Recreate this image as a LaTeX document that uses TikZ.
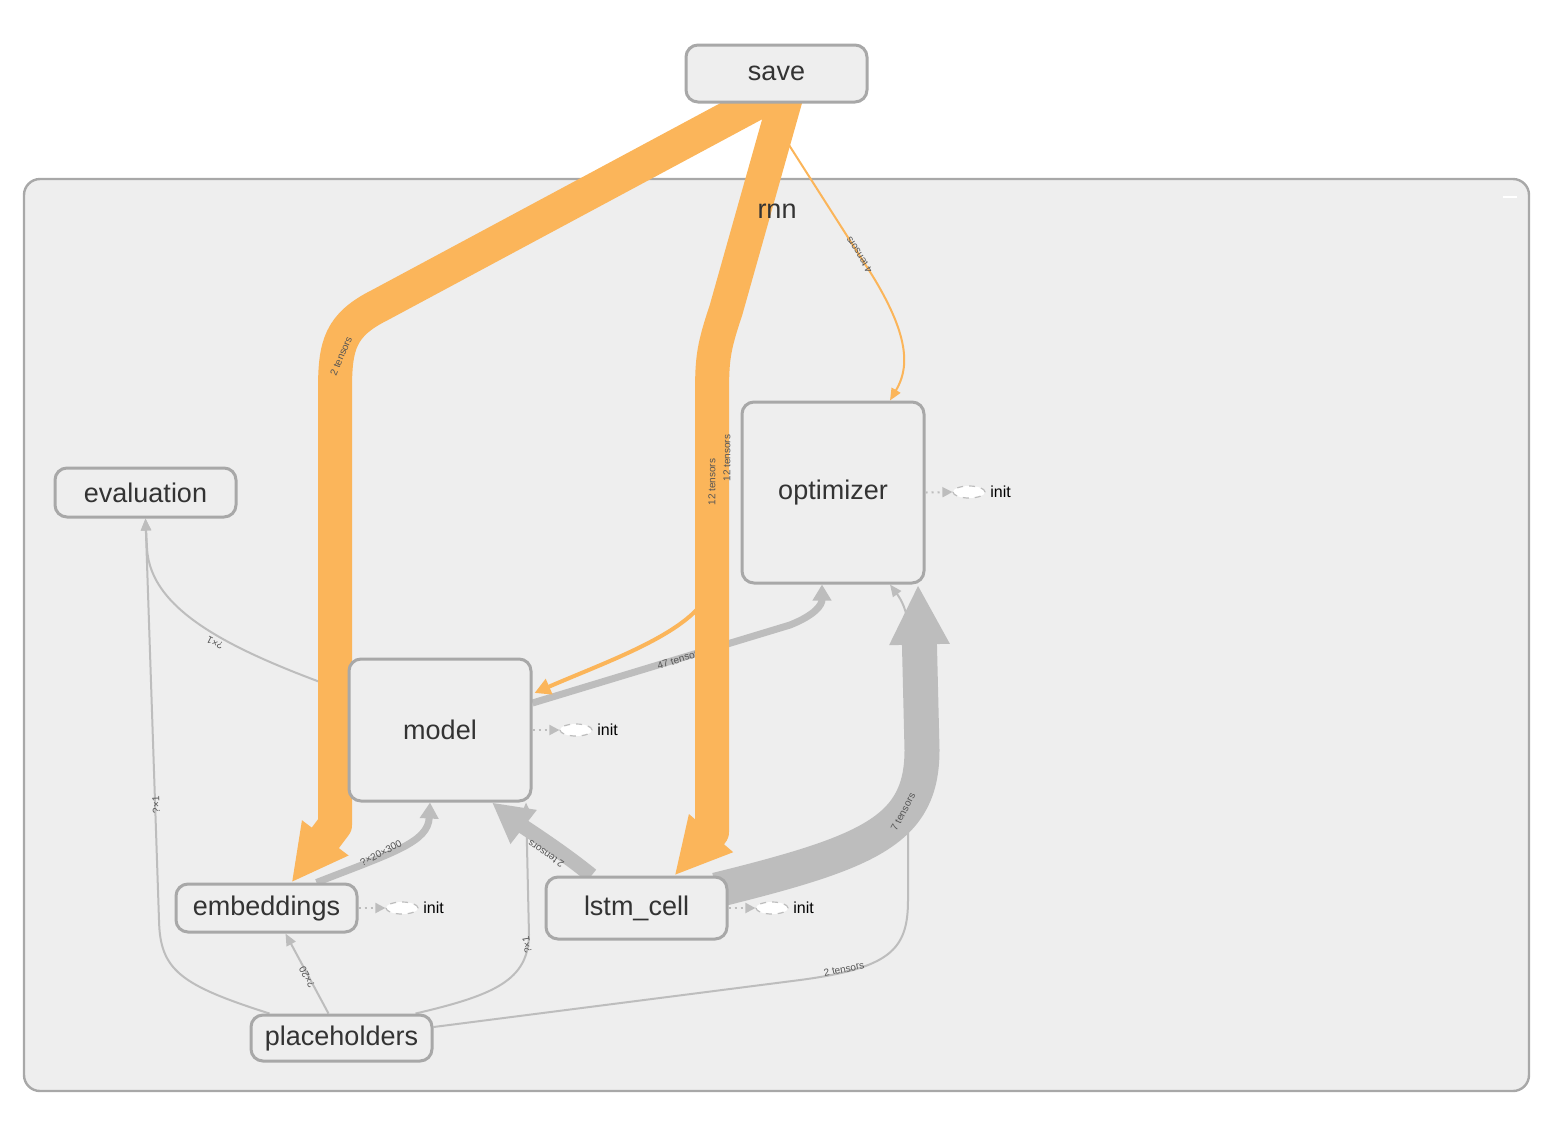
\documentclass[tikz,border=0pt]{standalone}
\usepackage{fontspec}
\setmainfont{Liberation Sans}
\usetikzlibrary{arrows.meta,calc,shapes.geometric}
\definecolor{orng}{HTML}{FBB55A}
\definecolor{edgegrey}{HTML}{BDBDBD}
\definecolor{nstroke}{HTML}{A8A8A8}
\definecolor{nfill}{HTML}{EEEEEE}
\definecolor{txt}{HTML}{333333}
\definecolor{lbl}{HTML}{555555}
\pgfdeclarelayer{back}
\pgfdeclarelayer{edges}
\pgfsetlayers{back,edges,main}
\begin{document}
\begin{tikzpicture}[x=0.5pt,y=-0.5pt,
  opnode/.style={draw=nstroke, line width=1.5pt, fill=nfill, rounded corners=6pt, text=txt,
    font=\fontsize{13.5}{16}\selectfont, inner sep=0pt, minimum width=90.5pt},
  elabel/.style={font=\fontsize{5}{6}\selectfont, text=lbl, inner sep=0.3pt},
  thinedge/.style={draw=edgegrey, line width=1pt, -{Triangle[width=5pt,length=6pt]}},
  medgrey/.style={draw=edgegrey, line width=3.5pt, -{Triangle[width=9pt,length=8pt]}},
  widegrey/.style={draw=edgegrey, line width=7.5pt, line join=round, -{Triangle[width=20pt,length=20pt]}},
  hugegrey/.style={draw=edgegrey, line width=17.5pt, line join=round, -{Triangle[width=28pt,length=30pt]}},
  orthin/.style={draw=orng, line width=1pt, -{Triangle[width=5pt,length=6pt]}},
  ormed/.style={draw=orng, line width=2pt, line join=round, -{Triangle[width=8pt,length=8pt]}},
  orband/.style={draw=orng, line width=17pt, line join=round, -{Triangle[width=27pt,length=28pt]}},
  initell/.style={ellipse, draw=edgegrey, dashed, fill=white, minimum width=16pt, minimum height=6pt, inner sep=0pt, line width=0.6pt},
  initline/.style={draw=edgegrey, dotted, line width=1pt, -{Triangle[width=5pt,length=5pt]}},
  inittxt/.style={font=\fontsize{8}{9}\selectfont, text=black, inner sep=0pt, anchor=west}
]
\useasboundingbox (0,0) rectangle (1556,1126);

% cluster
\begin{pgfonlayer}{back}
\draw[draw=nstroke, line width=1.2pt, fill=nfill, rounded corners=8pt] (24,179) rectangle (1529,1091);
\draw[white, line width=1pt] (1503,197) -- (1517,197);
\end{pgfonlayer}
\node[font=\fontsize{13.5}{16}\selectfont, text=txt, inner sep=0pt] (rnnlabel) at (777,211) {rnn};

% op nodes
\node[opnode, minimum height=28.5pt] (save) at (776.5,73.5) {save};
\node[opnode, minimum height=24.5pt] (eval) at (145.5,492.5) {evaluation};
\node[opnode, minimum width=91pt, minimum height=90.5pt] (opt) at (833,492.5) {optimizer};
\node[opnode, minimum width=91pt, minimum height=71pt] (model) at (440,730) {model};
\node[opnode, minimum height=24pt] (emb) at (266.5,908) {embeddings};
\node[opnode, minimum height=31pt] (lstm) at (636.5,908) {lstm\_cell};
\node[opnode, minimum height=23pt] (ph) at (341.5,1038) {placeholders};

% init stubs
\node[initell] (optinit) at (969,492) {};
\draw[initline] (opt.east) -- (optinit.west);
\node[inittxt] (optinittxt) at (990,492) {init};
\node[initell] (modelinit) at (576,730) {};
\draw[initline] (model.east) -- (modelinit.west);
\node[inittxt] (modelinittxt) at (597,730) {init};
\node[initell] (embinit) at (402,908) {};
\draw[initline] (emb.east) -- (embinit.west);
\node[inittxt] (embinittxt) at (423,908) {init};
\node[initell] (lstminit) at (772,908) {};
\draw[initline] (lstm.east) -- (lstminit.west);
\node[inittxt] (lstminittxt) at (793,908) {init};

\begin{pgfonlayer}{edges}
% thin grey edges
\draw[thinedge] ($(model.west)+(0,-38)$) .. controls (235,652) and (150,612) .. (147,548) -- (eval.south);
\node[elabel, rotate=153] (l1) at (215,643) {?×1};
\draw[thinedge] ($(ph.north west)+(20,0)$) .. controls (180,985) and (160,970) .. (159,920) -- (eval.south);
\node[elabel, rotate=92] (l2) at (156,805) {?×1};
\draw[thinedge] ($(ph.north)+(-13,0)$) -- ($(emb.south)+(19,0)$);
\node[elabel, rotate=118] (l3) at (307,977) {?×20};
\draw[thinedge] ($(ph.north)+(74,0)$) .. controls (495,995) and (528,980) .. (529,935) -- ($(model.south)+(86,0)$);
\node[elabel, rotate=100] (l4) at (527,945) {?×1};
\draw[thinedge] ($(ph.east)+(0,-11)$) -- (800,980) .. controls (890,968) and (908,950) .. (908,900) -- (908,630) .. controls (908,610) and (900,598) .. ($(opt.south)+(57,0)$);
\node[elabel, rotate=12] (l5) at (844,969) {2 tensors};

% medium / wide grey edges
\draw[medgrey] ($(emb.north)+(50,0)$) .. controls (395,852) and (428,842) .. ($(model.south)+(-10,0)$);
\node[elabel, rotate=27] (l6) at (381,853) {?×20×300};
\draw[medgrey] ($(model.east)+(0,-27)$) -- (790,625) .. controls (815,615) and (822,605) .. ($(opt.south)+(-11,0)$);
\node[elabel, rotate=17] (l7) at (680,659) {47 tensors};
\draw[widegrey] ($(lstm.north)+(-45,0)$) .. controls (560,850) and (525,828) .. ($(model.south)+(52,0)$);
\node[elabel, rotate=145] (l8) at (546,854) {2 tensors};
\draw[hugegrey] ($(lstm.east)+(-12,-18)$) .. controls (870,852) and (922,830) .. (922,750) -- ($(opt.south)+(85,0)$);
\node[elabel, rotate=62] (l9) at (903,812) {7 tensors};

% orange edges
\draw[orthin] ($(save.south)+(-14,0)$) -- (872,275) .. controls (912,340) and (908,370) .. ($(opt.north)+(57,0)$);
\node[elabel, rotate=122] (l10) at (859,255) {4 tensors};
\draw[ormed] ($(save.south)+(10,-8)$) -- (724,315) .. controls (712,352) and (712,360) .. (712,400) -- (712,585) .. controls (700,630) and (610,660) .. ($(model.east)+(2,-37)$);
\draw[orband] ($(save.south)+(-6,-8)$) -- (380,305) .. controls (340,325) and (335,345) .. (335,390) -- (335,825) -- ($(emb.north)+(25,0)$);
\draw[orband] ($(save.south)+(10,-8)$) -- (726,310) .. controls (712,352) and (712,360) .. (712,405) -- (712,832) -- ($(lstm.north)+(38,0)$);
\node[elabel, rotate=67] (l11) at (341,356) {2 tensors};
\node[elabel, rotate=90] (l12) at (712,482) {12 tensors};
\node[elabel, rotate=90] (l13) at (727,458) {12 tensors};
\end{pgfonlayer}
\end{tikzpicture}
\end{document}
